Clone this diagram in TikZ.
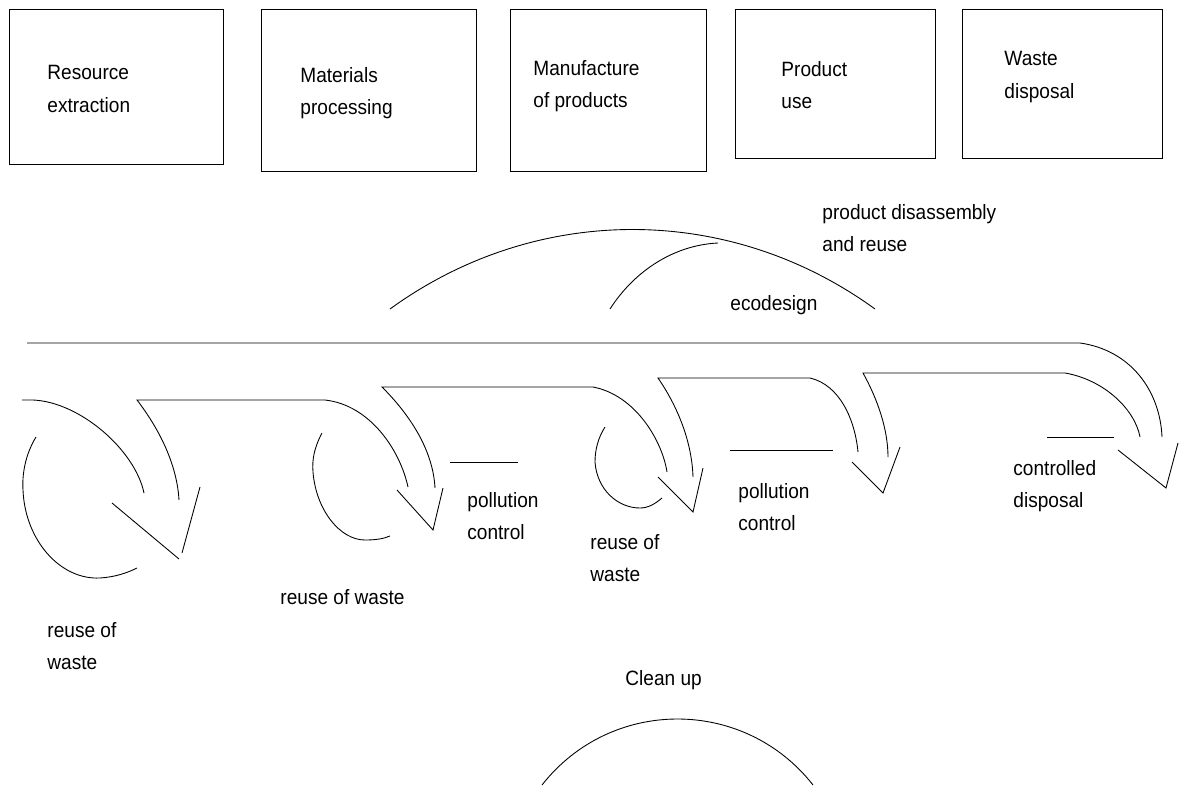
\documentclass[tikz,border=0pt]{standalone}
\usepackage{fontspec}
\setmainfont{Liberation Sans}[FakeStretch=0.92]

\begin{document}
\begin{tikzpicture}[x=0.02cm,y=-0.02cm,line width=0.5pt,
  lbl/.style={anchor=west,align=left,inner sep=0,font=\fontsize{11.8}{18.5}\selectfont}]
  \useasboundingbox (0,0) rectangle (1179,794);
  \draw (9,9) rectangle (223,164);
  \draw (261,9) rectangle (476,171);
  \draw (510,9) rectangle (706,171);
  \draw (735,9) rectangle (935,158);
  \draw (962,9) rectangle (1162,158);
  \node[lbl] (L-1) at (47,89) {Resource\\extraction};
  \node[lbl] (L-2) at (300,93) {Materials\\processing};
  \node[lbl] (L-3) at (533,86) {Manufacture\\of products};
  \node[lbl] (L-4) at (781,85) {Product\\use};
  \node[lbl] (L-5) at (1004,77) {Waste\\disposal};
  \node[lbl] (R-1) at (822,228) {product disassembly\\and reuse};
  \node[lbl] (R-2) at (730,305) {ecodesign};
  \node[lbl] (P-1) at (467,516) {pollution\\control};
  \node[lbl] (P-2) at (738,507) {pollution\\control};
  \node[lbl] (P-3) at (1013,486) {controlled\\disposal};
  \node[lbl] (W-1) at (47,646) {reuse of\\waste};
  \node[lbl] (W-2) at (280,597) {reuse of waste};
  \node[lbl] (W-3) at (590,558) {reuse of\\waste};
  \node[lbl] (C-1) at (625,680) {Clean up};
  \draw (390,309) .. controls (536,203) and (729,203) .. (875,309);
  \draw (610,309) .. controls (635,270) and (675,245) .. (718,243);
  \draw (542,785) .. controls (611,697) and (744,697) .. (813,785);
  \draw (27,343) -- (1080,343) .. controls (1130,350) and (1160,390) .. (1162,437);
  \draw (179,500) .. controls (177,465) and (160,430) .. (137,400) -- (325,400)
    .. controls (370,405) and (400,450) .. (408,487);
  \draw (435,488) .. controls (433,450) and (410,415) .. (382,387) -- (593,387)
    .. controls (635,395) and (662,440) .. (667,472);
  \draw (693,477) .. controls (692,445) and (680,410) .. (658,378) -- (810,378)
    .. controls (840,385) and (855,420) .. (858,452);
  \draw (888,457) .. controls (888,430) and (878,400) .. (863,373) -- (1065,373)
    .. controls (1105,380) and (1135,410) .. (1140,437);
  \draw (22,400) -- (33,400) .. controls (80,402) and (135,450) .. (144,493);
  \draw (36,437) .. controls (25,455) and (22,475) .. (23,490)
    .. controls (25,540) and (60,580) .. (100,578) .. controls (115,577) and (127,573) .. (137,568);
  \draw (322,433) .. controls (314,448) and (312,460) .. (313,472)
    .. controls (316,510) and (340,540) .. (365,540) .. controls (375,540) and (383,539) .. (390,536);
  \draw (605,427) .. controls (598,438) and (595,450) .. (595,462)
    .. controls (597,490) and (618,508) .. (640,508) .. controls (648,508) and (655,504) .. (662,498);
  \draw (112,503) -- (179,559);
  \draw (182,553) -- (200,487);
  \draw (397,490) -- (433,530) -- (443,488);
  \draw (658,477) -- (693,512) -- (703,468);
  \draw (852,462) -- (883,493) -- (900,447);
  \draw (1118,450) -- (1166,488) -- (1178,443);
  \draw (450,462) -- (518,462);
  \draw (730,450) -- (833,450);
  \draw (1047,437) -- (1114,437);
\end{tikzpicture}
\end{document}
